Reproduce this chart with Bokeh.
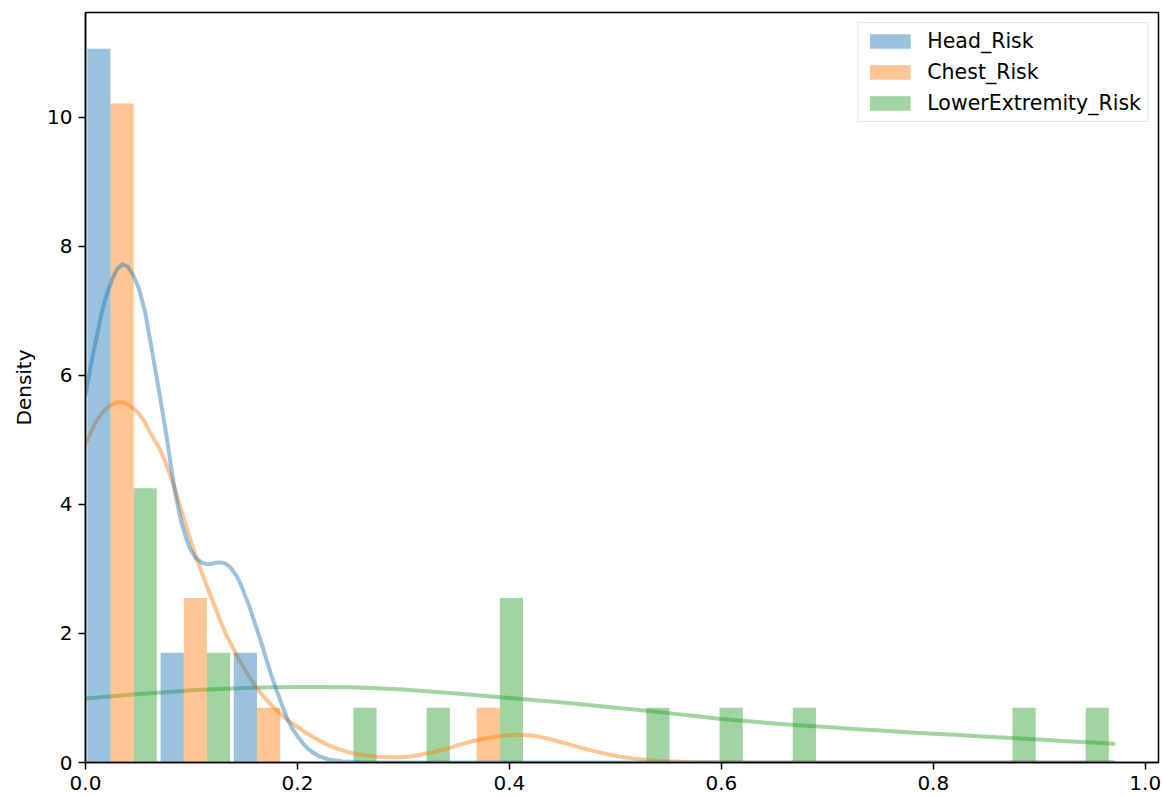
from bokeh.plotting import figure
from bokeh.models import Legend, LegendItem, FixedTicker
from bokeh.embed import file_html
from bokeh.resources import INLINE

# Histogram bins shared by all three series
n_bins = 14
bin_width = 0.0691
shrink = 0.95

series_names = ["Head_Risk", "Chest_Risk", "LowerExtremity_Risk"]
colors = ["#1f77b4", "#ff7f0e", "#2ca02c"]

# Density per bin
head_density = [11.06, 1.70, 1.70, 0, 0, 0, 0, 0, 0, 0, 0, 0, 0, 0]
chest_density = [10.21, 2.55, 0.85, 0, 0, 0.85, 0, 0, 0, 0, 0, 0, 0, 0]
lower_density = [4.25, 1.70, 0, 0.85, 0.85, 2.55, 0, 0.85, 0.85, 0.85, 0, 0, 0.85, 0.85]

# Kernel density estimates
head_kde_x = [0.0, 0.005, 0.01, 0.015, 0.02, 0.025, 0.03, 0.035, 0.04, 0.045,
              0.05, 0.056, 0.062, 0.067, 0.072, 0.077, 0.081, 0.085, 0.09, 0.095,
              0.099, 0.104, 0.11, 0.115, 0.12, 0.124, 0.128, 0.132, 0.137, 0.143,
              0.147, 0.151, 0.155, 0.159, 0.163, 0.167, 0.171, 0.175, 0.179, 0.183,
              0.187, 0.191, 0.195, 0.2, 0.205, 0.21, 0.215, 0.22, 0.225, 0.23,
              0.236, 0.243, 0.25, 0.26, 0.27, 0.3, 0.97]
head_kde_y = [5.7, 6.15, 6.55, 6.95, 7.25, 7.48, 7.65, 7.72, 7.68, 7.55,
              7.36, 7.0, 6.45, 5.98, 5.5, 5.0, 4.55, 4.15, 3.75, 3.47,
              3.3, 3.17, 3.09, 3.07, 3.08, 3.1, 3.1, 3.08, 3.02, 2.88,
              2.74, 2.57, 2.4, 2.2, 2.0, 1.8, 1.58, 1.37, 1.18, 1.0,
              0.82, 0.66, 0.53, 0.41, 0.3, 0.21, 0.15, 0.1, 0.07, 0.045,
              0.03, 0.017, 0.01, 0.004, 0.001, 0.0, 0.0]

chest_kde_x = [0.0, 0.005, 0.01, 0.015, 0.02, 0.025, 0.03, 0.035, 0.04, 0.045,
               0.05, 0.055, 0.06, 0.065, 0.07, 0.075, 0.08, 0.085, 0.09, 0.095,
               0.1, 0.105, 0.11, 0.116, 0.122, 0.127, 0.133, 0.14, 0.146, 0.1525,
               0.16, 0.168, 0.176, 0.184, 0.192, 0.2, 0.208, 0.215, 0.223, 0.23,
               0.24, 0.248, 0.257, 0.265, 0.275, 0.286, 0.296, 0.305, 0.316, 0.327,
               0.338, 0.348, 0.358, 0.368, 0.378, 0.387, 0.396, 0.405, 0.415, 0.425,
               0.434, 0.443, 0.453, 0.463, 0.474, 0.484, 0.495, 0.505, 0.518, 0.531,
               0.543, 0.555, 0.568, 0.58, 0.6, 0.62, 0.97]
chest_kde_y = [4.93, 5.12, 5.28, 5.4, 5.49, 5.55, 5.58, 5.58, 5.55, 5.49,
               5.41, 5.3, 5.14, 5.0, 4.86, 4.67, 4.45, 4.2, 3.93, 3.66,
               3.4, 3.16, 2.93, 2.67, 2.42, 2.2, 1.97, 1.75, 1.56, 1.38,
               1.19, 1.02, 0.88, 0.75, 0.64, 0.55, 0.46, 0.39, 0.32, 0.26,
               0.2, 0.16, 0.13, 0.11, 0.09, 0.08, 0.08, 0.09, 0.12, 0.16,
               0.2, 0.25, 0.3, 0.34, 0.375, 0.40, 0.42, 0.43, 0.425, 0.41,
               0.38, 0.34, 0.295, 0.25, 0.2, 0.16, 0.12, 0.09, 0.06, 0.04,
               0.025, 0.015, 0.008, 0.005, 0.002, 0.0, 0.0]

lower_kde_x = [0.0, 0.025, 0.05, 0.075, 0.1, 0.125, 0.15, 0.175, 0.2, 0.225,
               0.25, 0.275, 0.3, 0.325, 0.35, 0.375, 0.4, 0.425, 0.45, 0.475,
               0.5, 0.525, 0.55, 0.575, 0.6, 0.625, 0.65, 0.675, 0.7, 0.725,
               0.75, 0.775, 0.8, 0.825, 0.85, 0.875, 0.9, 0.925, 0.95, 0.97]
lower_kde_y = [0.99, 1.025, 1.06, 1.09, 1.12, 1.14, 1.155, 1.165, 1.17, 1.17,
               1.165, 1.15, 1.13, 1.10, 1.07, 1.035, 1.0, 0.965, 0.93, 0.89,
               0.85, 0.81, 0.765, 0.72, 0.675, 0.64, 0.605, 0.575, 0.55, 0.52,
               0.495, 0.47, 0.445, 0.425, 0.4, 0.38, 0.355, 0.33, 0.31, 0.29]

x_ticks = [0.0, 0.2, 0.4, 0.6, 0.8, 1.0]
y_ticks = [0, 2, 4, 6, 8, 10]

FONT = "DejaVu Sans"

p = figure(width=1162, height=796, output_backend="svg", toolbar_location=None,
           x_range=(0, 1.0125), y_range=(0, 11.62),
           min_border_left=85, min_border_right=4, min_border_top=12,
           min_border_bottom=34)
p.xgrid.visible = False
p.ygrid.visible = False
p.outline_line_color = "black"
p.outline_line_width = 1.5
p.outline_line_alpha = 1.0
p.background_fill_color = "white"
p.border_fill_color = "white"

bar_w = bin_width * shrink / 3
offset0 = bin_width * (1 - shrink) / 2

densities = [head_density, chest_density, lower_density]
kdes = [(head_kde_x, head_kde_y), (chest_kde_x, chest_kde_y), (lower_kde_x, lower_kde_y)]
bar_renderers = [None, None, None]

# later series first so the first series sits on top
for k in [2, 1, 0]:
    centers = [i * bin_width + offset0 + (k + 0.5) * bar_w for i in range(n_bins)]
    r = p.vbar(x=centers, top=densities[k], width=bar_w, bottom=0,
               fill_color=colors[k], fill_alpha=0.45, line_color=None)
    bar_renderers[k] = r
    kx, ky = kdes[k]
    p.line(kx, ky, line_color=colors[k], line_width=4, line_alpha=0.45,
           line_join="round", line_cap="round")

for ax in (p.xaxis[0], p.yaxis[0]):
    ax.axis_line_color = "black"
    ax.axis_line_width = 1.5
    ax.major_tick_line_width = 1.5
    ax.major_tick_line_color = "black"
    ax.major_tick_out = 7
    ax.major_tick_in = 0
    ax.minor_tick_line_color = None
    ax.major_label_text_font = FONT
    ax.major_label_text_font_size = "20px"
    ax.major_label_text_color = "black"
    ax.major_label_standoff = 6

p.xaxis.ticker = FixedTicker(ticks=x_ticks)
p.yaxis.ticker = FixedTicker(ticks=y_ticks)
p.xaxis.major_label_overrides = {t: f"{t:.1f}" for t in x_ticks}

p.yaxis.axis_label = "Density"
p.yaxis.axis_label_text_font = FONT
p.yaxis.axis_label_text_font_size = "20px"
p.yaxis.axis_label_text_font_style = "normal"
p.yaxis.axis_label_text_color = "black"
p.yaxis.axis_label_standoff = 8

legend = Legend(items=[LegendItem(label=series_names[k], renderers=[bar_renderers[k]])
                       for k in range(3)],
                location="top_right")
legend.margin = 10
legend.padding = 6
legend.spacing = 7
legend.glyph_width = 51
legend.glyph_height = 18
legend.label_height = 22
legend.label_standoff = 12
legend.label_text_font = FONT
legend.label_text_font_size = "20.5px"
legend.label_text_color = "black"
legend.border_line_color = "#cccccc"
legend.border_line_width = 1.5
legend.background_fill_color = "white"
legend.background_fill_alpha = 0.8
p.add_layout(legend)

open("out.html", "w").write(file_html(p, INLINE))
